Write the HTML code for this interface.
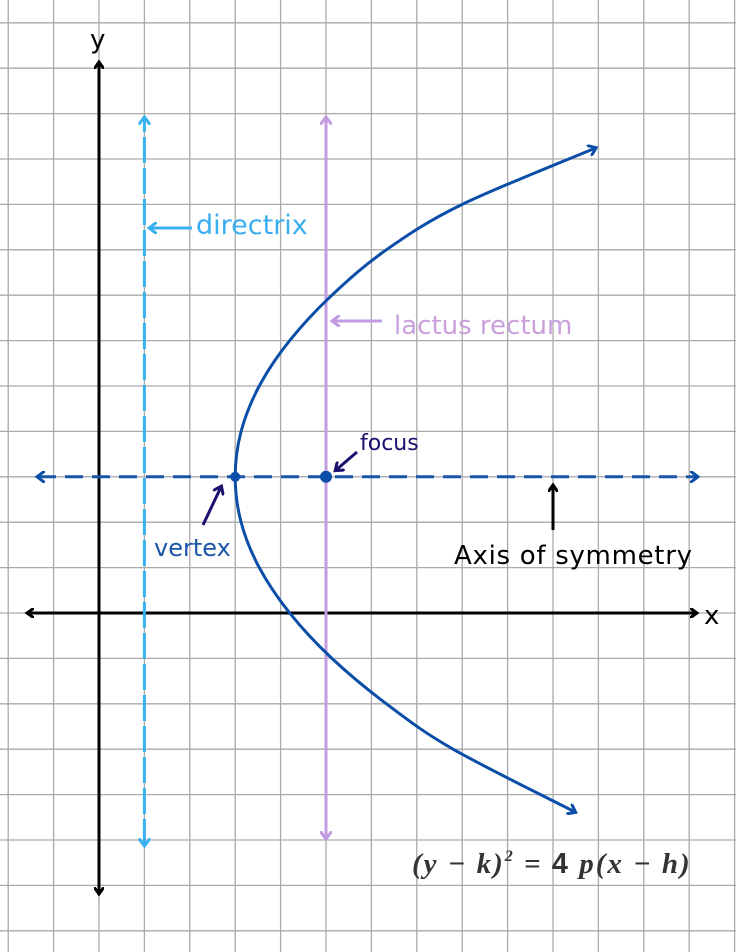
<!DOCTYPE html>
<html><head><meta charset="utf-8">
<style>
html,body{margin:0;padding:0;background:#fff;}
svg{display:block;}
text{font-family:"DejaVu Sans","Liberation Sans",sans-serif;}
</style></head>
<body>
<svg id="chart" width="736" height="952" viewBox="0 0 736 952" xmlns="http://www.w3.org/2000/svg">
<defs>
<marker id="arrK" markerWidth="10" markerHeight="10" refX="6" refY="5" orient="auto-start-reverse" markerUnits="userSpaceOnUse"><path d="M0,0 L7,5 L0,10" fill="none" stroke="#000" stroke-width="3"/></marker>
<marker id="arrB" markerWidth="12" markerHeight="12" refX="7" refY="6" orient="auto-start-reverse" markerUnits="userSpaceOnUse"><path d="M0,0 L8,6 L0,12" fill="none" stroke="#0a4ea8" stroke-width="3"/></marker>
<marker id="arrC" markerWidth="12" markerHeight="12" refX="7" refY="6" orient="auto-start-reverse" markerUnits="userSpaceOnUse"><path d="M0,0 L8,6 L0,12" fill="none" stroke="#39b0f0" stroke-width="3"/></marker>
<marker id="arrV" markerWidth="12" markerHeight="12" refX="7" refY="6" orient="auto-start-reverse" markerUnits="userSpaceOnUse"><path d="M0,0 L8,6 L0,12" fill="none" stroke="#c39be0" stroke-width="3"/></marker>
<marker id="arrN" markerWidth="12" markerHeight="12" refX="7" refY="6" orient="auto" markerUnits="userSpaceOnUse"><path d="M0,0 L8,6 L0,12" fill="none" stroke="#1a1070" stroke-width="3"/></marker>
</defs>
<g id="grid"></g>
<g id="marks"></g>
<text x="90" y="48" font-size="26" fill="#000">y</text>
<text x="704" y="624" font-size="26" fill="#000">x</text>
<text x="196" y="234" font-size="27" fill="#3aaef0">directrix</text>
<text x="394" y="334" font-size="26" fill="#c9a0dc">lactus rectum</text>
<text x="360" y="450" font-size="22" fill="#1a1070">focus</text>
<text x="154" y="556" font-size="24" fill="#1a56a8">vertex</text>
<text x="454" y="564" font-size="26" fill="#000" textLength="238">Axis of symmetry</text>
<text x="412" y="873" font-size="29" font-weight="bold" font-style="italic" fill="#333" style="font-family:'Liberation Serif',serif" letter-spacing="2">(y − k)<tspan font-size="16" dy="-12">2</tspan><tspan dy="12"> = </tspan><tspan font-style="normal" style="font-family:'Liberation Sans',sans-serif">4</tspan> p(x − h)</text>
</svg>
<script>
// data (grid units)
const gridX = [-2,-1,0,1,2,3,4,5,6,7,8,9,10,11,12,13,14];
const gridY = [-7,-6,-5,-4,-3,-2,-1,0,1,2,3,4,5,6,7,8,9,10,11,12,13];
const vertex = [3, 3];
const focus = [5, 3];
const directrixX = [1];
const curveX = [10.48, 7.8, 6.33, 5.13, 4.2, 3.53, 3.13, 3.0, 3.13, 3.53, 4.2, 5.13, 6.33, 8.0, 10.93];
const curveY = [-4.38, -3, -2, -1, 0, 1, 2, 3, 4, 5, 6, 7, 8, 9, 10.24];

const X0 = 99, Y0 = 613, C = 45.4;
const sx = v => X0 + v*C;
const sy = v => Y0 - v*C;
const NS = 'http://www.w3.org/2000/svg';
const grid = document.getElementById('grid');
const marks = document.getElementById('marks');
function mk(tag, attrs, parent){
  const e = document.createElementNS(NS, tag);
  for (const k in attrs) e.setAttribute(k, attrs[k]);
  parent.appendChild(e);
  return e;
}
gridX.forEach(g => {
  const l = mk('line', {x1:sx(g), x2:sx(g), y1:0, y2:952, stroke:'#aaa', 'stroke-width':1.3}, grid);
  
  
});
gridY.forEach(g => {
  const l = mk('line', {x1:0, x2:736, y1:sy(g), y2:sy(g), stroke:'#aaa', 'stroke-width':1.3}, grid);
  
  
});
let a = mk('line', {x1:28, y1:Y0, x2:696, y2:Y0, stroke:'#000', 'stroke-width':3, 'marker-start':'url(#arrK)', 'marker-end':'url(#arrK)'}, marks);


a = mk('line', {x1:X0, y1:893, x2:X0, y2:63, stroke:'#000', 'stroke-width':3, 'marker-start':'url(#arrK)', 'marker-end':'url(#arrK)'}, marks);


a = mk('line', {x1:sx(directrixX[0]), y1:845, x2:sx(directrixX[0]), y2:118, stroke:'#39b0f0', 'stroke-width':3, 'stroke-dasharray':'26 5', 'marker-start':'url(#arrC)', 'marker-end':'url(#arrC)'}, marks);


a = mk('line', {x1:sx(focus[0]), y1:838, x2:sx(focus[0]), y2:118, stroke:'#c39be0', 'stroke-width':3, 'marker-start':'url(#arrV)', 'marker-end':'url(#arrV)'}, marks);


a = mk('line', {x1:38, y1:sy(vertex[1]), x2:697, y2:sy(vertex[1]), stroke:'#1a56a8', 'stroke-width':3, 'stroke-dasharray':'18 9', 'marker-start':'url(#arrB)', 'marker-end':'url(#arrB)'}, marks);


const P = curveX.map((x,i)=>[sx(x), sy(curveY[i])]);
let d = 'M'+P[0][0]+','+P[0][1];
for (let i=0;i<P.length-1;i++){
  const p0=P[Math.max(i-1,0)], p1=P[i], p2=P[i+1], p3=P[Math.min(i+2,P.length-1)];
  const c1=[p1[0]+(p2[0]-p0[0])/6, p1[1]+(p2[1]-p0[1])/6];
  const c2=[p2[0]-(p3[0]-p1[0])/6, p2[1]-(p3[1]-p1[1])/6];
  d+=' C'+c1[0]+','+c1[1]+' '+c2[0]+','+c2[1]+' '+p2[0]+','+p2[1];
}
a = mk('path', {d:d, fill:'none', stroke:'#0a4ea8', 'stroke-width':3, 'marker-start':'url(#arrB)', 'marker-end':'url(#arrB)'}, marks);


a = mk('line', {x1:192, y1:228, x2:150, y2:228, stroke:'#39b0f0', 'stroke-width':3, 'marker-end':'url(#arrC)'}, marks);


a = mk('line', {x1:382, y1:321, x2:333, y2:321, stroke:'#c39be0', 'stroke-width':3, 'marker-end':'url(#arrV)'}, marks);


a = mk('line', {x1:357, y1:452, x2:336, y2:470, stroke:'#1a1070', 'stroke-width':3, 'marker-end':'url(#arrN)'}, marks);


a = mk('line', {x1:203, y1:525, x2:221, y2:487, stroke:'#1a1070', 'stroke-width':3, 'marker-end':'url(#arrN)'}, marks);


a = mk('line', {x1:553, y1:530, x2:553, y2:486, stroke:'#000', 'stroke-width':3, 'marker-end':'url(#arrK)'}, marks);


a = mk('circle', {cx:sx(vertex[0]), cy:sy(vertex[1]), r:5, fill:'#0a4ea8'}, marks);


a = mk('circle', {cx:sx(focus[0]), cy:sy(focus[1]), r:6, fill:'#0a4ea8'}, marks);


</script>
</body></html>
